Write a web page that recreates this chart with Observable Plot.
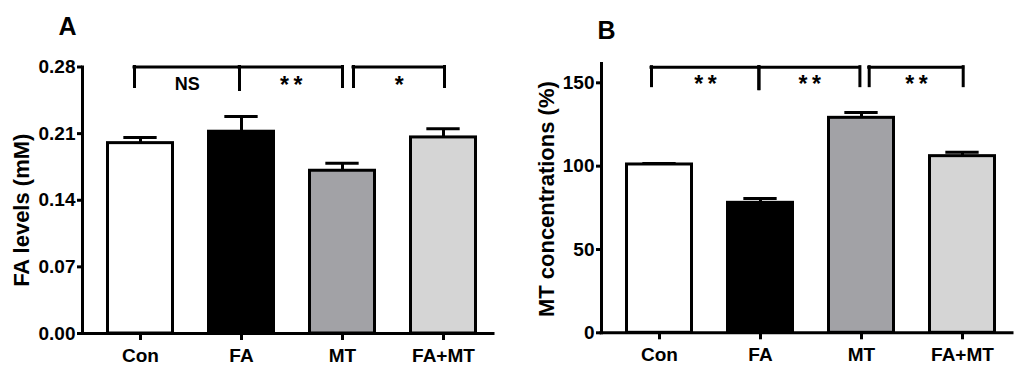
<!DOCTYPE html>
<html><head><meta charset="utf-8">
<script src="https://cdn.jsdelivr.net/npm/d3@7"></script>
<script src="https://cdn.jsdelivr.net/npm/@observablehq/plot@0.6"></script>
<style>
body{margin:0;background:#fff;}
#wrap{position:relative;width:1024px;height:373px;overflow:hidden;}
#a,#b{position:absolute;top:0;}
#a{left:0}#b{left:512px}
</style></head><body><div id="wrap"><div id="a"></div><div id="b"></div></div>
<script>
// ---- data ----
const groups = ["Con", "FA", "MT", "FA+MT"];
const faMean = [0.200, 0.212, 0.171, 0.206];
const faErr = [0.006, 0.016, 0.008, 0.009];
const mtMean = [101, 78, 129, 106];
const mtErr = [0.6, 2.6, 3.2, 2.4];
const faTicks = [0, 0.07, 0.14, 0.21, 0.28];
const mtTicks = [0, 50, 100, 150];
const faComparisons = [["Con", "FA", "NS"], ["FA", "MT", "**"], ["MT", "FA+MT", "*"]];
const mtComparisons = [["Con", "FA", "**"], ["FA", "MT", "**"], ["MT", "FA+MT", "**"]];
const fills = ["#ffffff", "#000000", "#a2a2a6", "#d5d5d5"];

const FONT = "'Liberation Sans', Arial, Helvetica, sans-serif";

function panel(el, cfg) {
  const W = 512, H = 373;
  const pi = 0.33, po = 0.19, al = 0.6;
  const {ml, mr, mt, mb, domain, top} = cfg;
  const band = d3.scaleBand(groups, [ml, W - mr]).paddingInner(pi).paddingOuter(po).align(al);
  const bw = band.bandwidth(), step = band.step();
  const yS = d3.scaleLinear(domain, [H - mb, mt]);
  const rows = groups.map((g, i) => ({group: g, mean: cfg.means[i], err: cfg.errs[i]}));
  const sw = 3;
  const marks = [];
  // bars
  marks.push(Plot.barY(rows, {x: "group", y: "mean", fill: "group", stroke: "#000", strokeWidth: sw, insetLeft: 1.5, insetRight: 1.5}));
  // error bars (upper only)
  marks.push(Plot.ruleX(rows, {x: "group", y1: "mean", y2: d => d.mean + d.err, stroke: "#000", strokeWidth: sw}));
  marks.push(Plot.tickY(rows, {x: "group", y: d => d.mean + d.err, stroke: "#000", strokeWidth: sw, insetLeft: bw * 0.255, insetRight: bw * 0.255}));
  // axes
  marks.push(Plot.axisY({ticks: cfg.ticks, tickFormat: cfg.fmt, tickSize: 5, tickPadding: 2, strokeWidth: sw, fontSize: 19, fontWeight: "bold", label: null}));
  marks.push(Plot.axisX({tickSize: 7, tickPadding: 8, strokeWidth: sw, fontSize: 19, fontWeight: "bold", label: null}));
  marks.push(Plot.frame({anchor: "left", strokeWidth: sw, stroke: "#000"}));
  marks.push(Plot.ruleY([0], {stroke: "#000", strokeWidth: sw, strokeLinecap: "square"}));
  // comparison brackets
  const topPx = yS(top);
  const seen = new Map();
  cfg.comps.forEach((c, i) => {
    const [oa, ob] = cfg.ends[i];
    [[c[0], oa], [c[1], ob]].forEach(([g, o]) => {
      const k = g + "|" + o;
      seen.set(k, (seen.get(k) || 0) + 1);
    });
  });
  cfg.comps.forEach((c, i) => {
    const [oa, ob] = cfg.ends[i];
    marks.push(Plot.ruleY([{a: c[0], b: c[1], y: top}], {
      x1: "a", x2: "b", y: "y", stroke: "#000", strokeWidth: sw, strokeLinecap: "square",
      insetLeft: bw / 2 + oa, insetRight: bw / 2 - ob
    }));
    [[c[0], oa], [c[1], ob]].forEach(([g, o]) => {
      const shared = seen.get(g + "|" + o) > 1;
      const len = shared ? cfg.midDrop : cfg.endDrop;
      marks.push(Plot.ruleX([{g}], {
        x: "g", y1: top, y2: yS.invert(topPx + len), dx: o,
        stroke: "#000", strokeWidth: sw, strokeLinecap: "square"
      }));
    });
    const isStar = c[2].startsWith("*");
    marks.push(Plot.text([c], {
      x: d => d[0], y: top, text: d => isStar ? d[2].split("").join("\u2009") : d[2],
      dx: (step + oa + ob) / 2, dy: isStar ? cfg.starDy : cfg.nsDy,
      fontSize: isStar ? 23 : 18, fontWeight: "bold", fill: "#000",
      textAnchor: "middle", lineAnchor: "middle"
    }));
  });
  // titles
  marks.push(Plot.text([cfg.title], {frameAnchor: "left", text: d => d, rotate: -90, dx: cfg.titleDx, dy: cfg.titleDy,
    textAnchor: "middle", lineAnchor: "middle", fontSize: 22, fontWeight: "bold", fill: "#000"}));
  marks.push(Plot.text([cfg.letter], {frameAnchor: "top-left", text: d => d, dx: cfg.letterDx, dy: cfg.letterDy,
    textAnchor: "middle", lineAnchor: "middle", fontSize: 25, fontWeight: "bold", fill: "#000"}));

  const chart = Plot.plot({
    width: W, height: H,
    marginLeft: ml, marginRight: mr, marginTop: mt, marginBottom: mb,
    style: {fontFamily: FONT, fontWeight: "bold", color: "#000", background: "#fff", overflow: "visible"},
    x: {domain: groups, paddingInner: pi, paddingOuter: po, align: al, label: null},
    y: {domain, label: null},
    color: {domain: groups, range: fills},
    marks
  });
  document.getElementById(el).appendChild(chart);
}

panel("a", {
  means: faMean, errs: faErr, ticks: faTicks, fmt: d3.format(".2f"),
  domain: [0, 0.28], top: 0.28,
  comps: faComparisons, ends: [[-6, -2], [-2, 0], [11, 1]],
  endDrop: 20, midDrop: 23, starDy: 19, nsDy: 17.5,
  ml: 82, mr: 19, mt: 66.5, mb: 40,
  title: "FA levels (mM)", titleDx: -60.5, titleDy: 10,
  letter: "A", letterDx: -15, letterDy: -40.5
});

panel("b", {
  means: mtMean, errs: mtErr, ticks: mtTicks, fmt: d3.format("d"),
  domain: [0, 161.6], top: 159.4,
  comps: mtComparisons, ends: [[-8, -1.6], [-1.6, -1.6], [7.7, 0.7]],
  endDrop: 19, midDrop: 22, starDy: 17.5, nsDy: 17.5,
  ml: 89, mr: 12, mt: 63, mb: 40.7,
  title: "MT concentrations (%)", titleDx: -55, titleDy: 1,
  letter: "B", letterDx: 5, letterDy: -33
});
</script>
</body></html>
